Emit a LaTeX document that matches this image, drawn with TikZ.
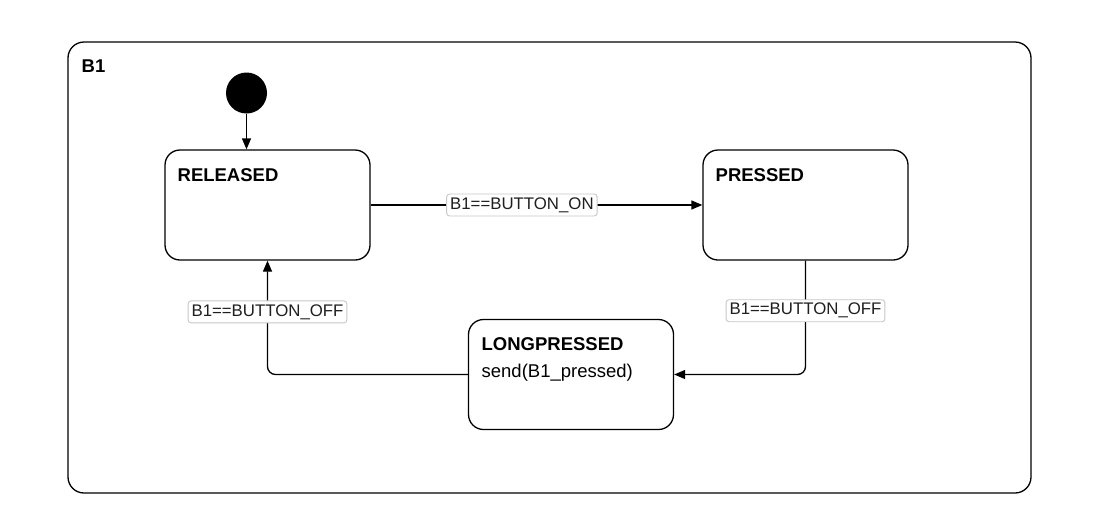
\documentclass[tikz,border=0pt]{standalone}
\usepackage{fontspec}
\setmainfont{Liberation Sans}
\usetikzlibrary{arrows.meta}
\begin{document}
\begin{tikzpicture}[x=1pt,y=-1pt,
  line width=1.3pt,
  statebox/.style={draw, rectangle, rounded corners=15pt, minimum width=205pt, minimum height=110pt, inner sep=0pt},
  stitle/.style={anchor=base west, inner sep=0pt, font=\fontsize{18.5}{22}\selectfont\bfseries},
  sbody/.style={anchor=base west, inner sep=0pt, font=\fontsize{18.5}{22}\selectfont},
  elabel/.style={draw=black!22, line width=0.9pt, fill=white, rounded corners=3pt, inner xsep=3.5pt, inner ysep=0pt, minimum height=22pt, font=\fontsize{16.8}{20}\selectfont, text=black!88},
  arr/.style={-{Triangle[length=11pt,width=9pt]}, line width=1.3pt}
]
\useasboundingbox (0,0) rectangle (1113,523);
% container
\node[draw, rectangle, rounded corners=16pt, minimum width=963pt, minimum height=451pt, inner sep=0pt] (cont) at (549.5,267.5) {};
\node[stitle] (b1) at (81,72.5) {B1};
% initial state
\node[circle, fill=black, minimum size=41pt, inner sep=0pt] (init) at (246.5,93) {};
% states
\node[statebox] (rel) at (267.5,205) {};
\node[stitle] (reltitle) at (177,181) {RELEASED};
\node[statebox] (pre) at (805.5,205) {};
\node[stitle] (pretitle) at (715,181) {PRESSED};
\node[statebox] (lp) at (571,374.5) {};
\node[stitle] (lptitle) at (481,350) {LONGPRESSED};
\node[sbody] (lpbody) at (481,377) {send(B1\_pressed)};
% transitions
\draw[arr] (init.south) -- (init.south |- rel.north);
\draw[arr] (rel.east) -- node[elabel, pos=0.456] (l1) {B1==BUTTON\_ON} (pre.west);
\draw[arr, rounded corners=8pt] (pre.south) |- node[elabel, pos=0.22] (l2) {B1==BUTTON\_OFF} (lp.east);
\draw[arr, rounded corners=8pt] (lp.west) -| node[elabel, pos=0.775] (l3) {B1==BUTTON\_OFF} (rel.south);
\end{tikzpicture}
\end{document}
